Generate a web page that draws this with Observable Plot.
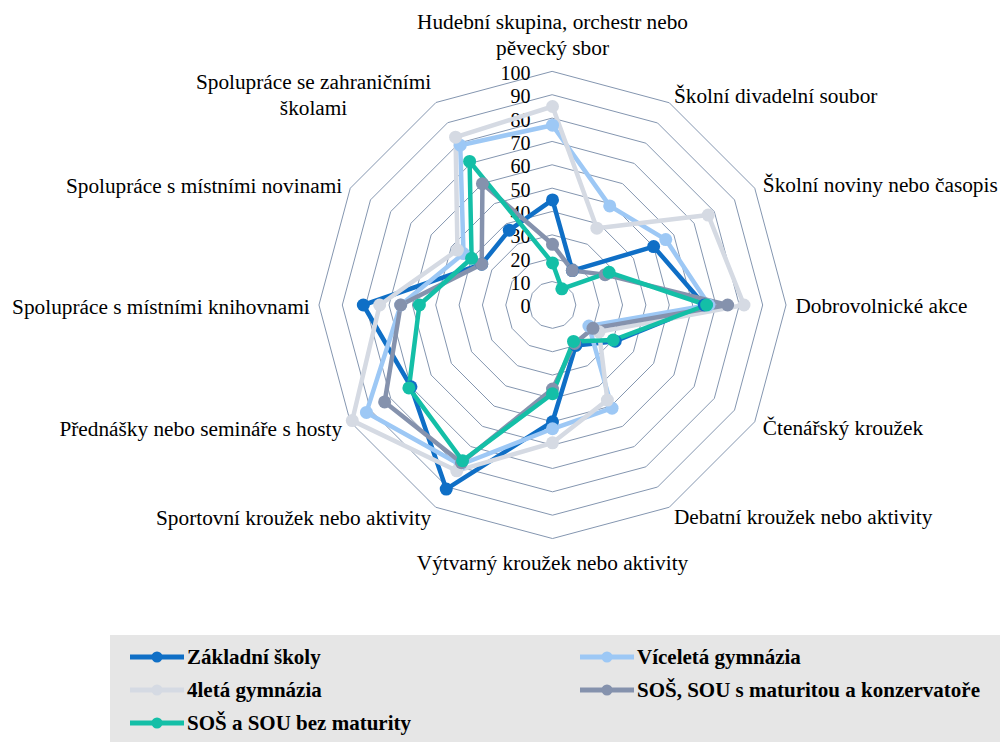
<!DOCTYPE html>
<html>
<head>
<meta charset="utf-8">
<script src="https://cdn.jsdelivr.net/npm/d3@7"></script>
<script src="https://cdn.jsdelivr.net/npm/@observablehq/plot@0.6"></script>
<style>
  html, body { margin: 0; padding: 0; background: #fff; }
  body { width: 1000px; height: 742px; overflow: hidden; font-family: "Liberation Serif", "Times New Roman", serif; }
  #chart svg { display: block; }
  #legend { position: relative; margin-left: 110px; width: 890px; height: 107px; background: #e6e6e6; }
  .item { position: absolute; height: 24px; display: flex; align-items: center; font-weight: bold; font-size: 21px; color: #000; white-space: nowrap; }
  .item svg { display: block; margin-right: 3px; }
</style>
</head>
<body>
<div id="chart"></div>
<div id="legend"></div>
<script>
// ---- data ----
const categories = [
  "Hudební skupina, orchestr nebo\npěvecký sbor",
  "Školní divadelní soubor",
  "Školní noviny nebo časopis",
  "Dobrovolnické akce",
  "Čtenářský kroužek",
  "Debatní kroužek nebo aktivity",
  "Výtvarný kroužek nebo aktivity",
  "Sportovní kroužek nebo aktivity",
  "Přednášky nebo semináře s hosty",
  "Spolupráce s místními knihovnami",
  "Spolupráce s místními novinami",
  "Spolupráce se zahraničními\nškolami"
];
const seriesNames = [
  "Základní školy",
  "Víceletá gymnázia",
  "4letá gymnázia",
  "SOŠ, SOU s maturitou a konzervatoře",
  "SOŠ a SOU bez maturity"
];
const zakladniSkoly   = [45, 17, 50, 65, 31, 20, 50, 91, 70, 81, 35, 37];
const viceletaGym     = [77, 49, 56, 67, 18, 51, 53, 79, 92, 65, 44, 79];
const ctyrletaGym     = [85, 38, 77, 82, 23, 47, 59, 82, 99, 74, 47, 83];
const sosMaturita     = [26, 17, 26, 75, 20, 19, 36, 78, 83, 65, 35, 60];
const sosBezMaturity  = [18,  8, 28, 66, 30, 18, 38, 77, 71, 57, 40, 71];
const seriesValues = [zakladniSkoly, viceletaGym, ctyrletaGym, sosMaturita, sosBezMaturity];
const seriesColors = ["#0f6fc6", "#9dc8f5", "#d5dae3", "#8592ad", "#14bfa7"];
const tickValues = [0, 10, 20, 30, 40, 50, 60, 70, 80, 90, 100];
const ringValues = [10, 20, 30, 40, 50, 60, 70, 80, 90, 100];

// ---- derived tables ----
const rows = seriesNames.flatMap((name, s) =>
  categories.map((cat, i) => ({name, cat, value: seriesValues[s][i]})));
const gridRows = ringValues.flatMap((ring) => categories.map((cat) => ({ring, cat})));

// angular scale (longitude) and radial scale (latitude) for the polar projection
const lon = d3.scalePoint().domain(categories).range([180, -150]);
const lat = d3.scaleLinear().domain([0, 100]).range([90, 89]);

const labelFont = {fontFamily: "Liberation Serif, Times New Roman, serif", fontSize: 21.3, fill: "#000", lineHeight: 1.22};
const isRight = (c) => lon(c) > 0 && lon(c) < 180;
const isLeft = (c) => lon(c) < 0 && lon(c) > -150;

const chart = Plot.plot({
  width: 1000,
  height: 635,
  marginLeft: 318.5,
  marginRight: 214.5,
  marginTop: 71,
  marginBottom: 97,
  projection: {
    type: "azimuthal-equidistant",
    rotate: [0, -90],
    domain: d3.geoCircle().center([0, 90]).radius(1)(),
    clip: false
  },
  color: {domain: seriesNames, range: seriesColors},
  marks: [
    Plot.line(gridRows, {
      x: (d) => lon(d.cat), y: (d) => lat(d.ring), z: "ring",
      curve: "linear-closed", stroke: "#8496b0", strokeWidth: 1, fill: "none"
    }),
    Plot.text(tickValues, {
      x: 180, y: (d) => lat(d), text: (d) => String(d),
      textAnchor: "end", dx: -22, dy: 2,
      fontFamily: "Liberation Serif, Times New Roman, serif", fontSize: 20, fill: "#000"
    }),
    // category labels
    Plot.text(categories.filter(isRight), {
      x: (c) => lon(c), y: () => lat(104), text: (c) => c, textAnchor: "start", ...labelFont
    }),
    Plot.text(categories.filter(isLeft), {
      x: (c) => lon(c), y: () => lat(104), text: (c) => c, textAnchor: "end", dy: 1, ...labelFont
    }),
    Plot.text(categories.filter((c) => lon(c) === 180), {
      x: (c) => lon(c), y: () => lat(100), text: (c) => c, textAnchor: "middle", lineAnchor: "bottom", dy: -16, ...labelFont
    }),
    Plot.text(categories.filter((c) => lon(c) === 0), {
      x: (c) => lon(c), y: () => lat(104), text: (c) => c, textAnchor: "middle", dy: 14, ...labelFont
    }),
    Plot.text(categories.filter((c) => lon(c) === -150), {
      x: (c) => lon(c), y: () => lat(104), text: (c) => c, textAnchor: "middle", dx: -117.5, dy: -1, ...labelFont
    }),
    // series
    Plot.line(rows, {
      x: (d) => lon(d.cat), y: (d) => lat(d.value), z: "name", stroke: "name",
      curve: "linear-closed", strokeWidth: 4.5, strokeLinejoin: "round", fill: "none"
    }),
    Plot.dot(rows, {
      x: (d) => lon(d.cat), y: (d) => lat(d.value), fill: "name", r: 6.5, stroke: "none"
    })
  ]
});
document.getElementById("chart").appendChild(chart);

// ---- legend ----
const legend = document.getElementById("legend");
seriesNames.forEach((name, i) => {
  const col = i % 2, row = Math.floor(i / 2);
  const item = document.createElement("div");
  item.className = "item";
  item.style.left = (col === 0 ? 20 : 470) + "px";
  item.style.top = (10 + row * 33) + "px";
  const color = seriesColors[i];
  item.innerHTML =
    `<svg width="54" height="14"><line x1="0" y1="7" x2="54" y2="7" stroke="${color}" stroke-width="5"/>` +
    `<circle cx="27" cy="7" r="5.5" fill="${color}"/></svg><span>${name}</span>`;
  legend.appendChild(item);
});
</script>
</body>
</html>
